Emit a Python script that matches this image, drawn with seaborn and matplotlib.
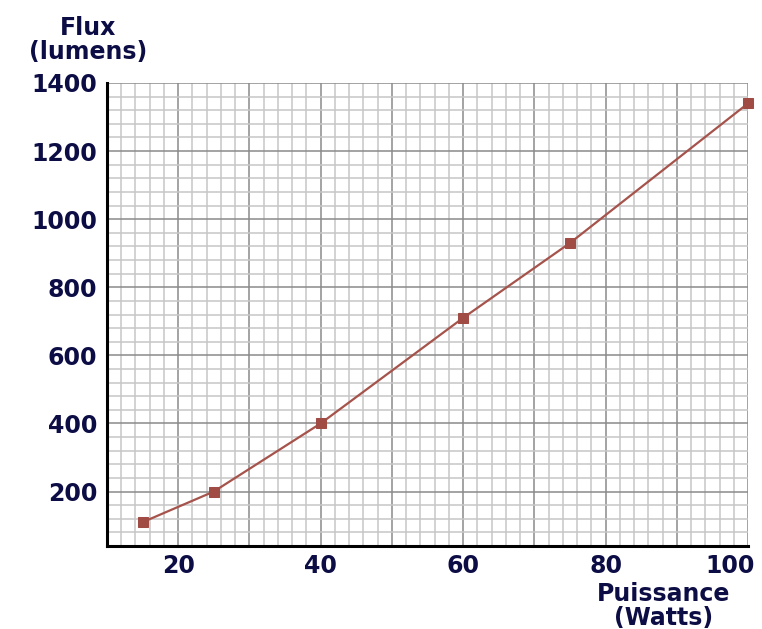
import matplotlib
matplotlib.use("Agg")
import matplotlib.pyplot as plt
import matplotlib.transforms as mtransforms
import seaborn as sns
import pandas as pd
import numpy as np
from matplotlib.ticker import FixedLocator, MultipleLocator

# Data
puissance = [15, 25, 40, 60, 75, 100]          # Watts
flux = [110, 200, 400, 710, 930, 1340]         # lumens
x_ticks = [10, 20, 30, 40, 50, 60, 70, 80, 90, 100]
x_labels = ["", "20", "", "40", "", "60", "", "80", "", "100"]
y_ticks = [200, 400, 600, 800, 1000, 1200, 1400]
y_labels = ["200", "400", "600", "800", "1000", "1200", "1400"]

sns.set_style("white")
plt.rcParams['font.family'] = ['DejaVu Sans']

TXT = "#0d0d45"
LINE = "#a5534b"

df = pd.DataFrame({"Puissance": puissance, "Flux": flux})

fig = plt.figure(figsize=(7.62, 6.29), dpi=100)
ax = fig.add_axes([107/762, 83/629, (748-107)/762, (546-83)/629])

ax.set_xlim(10, 100)
ax.set_ylim(40, 1400)

# Grid
ax.xaxis.set_minor_locator(MultipleLocator(2))
ax.yaxis.set_minor_locator(MultipleLocator(40))
ax.xaxis.set_major_locator(FixedLocator(x_ticks))
ax.yaxis.set_major_locator(FixedLocator(y_ticks))
ax.set_xticklabels(x_labels)
ax.set_yticklabels(y_labels)
ax.grid(which="minor", color="#c6c6c6", linewidth=1.1)
ax.grid(which="major", color="#8a8a8a", linewidth=1.1)
ax.set_axisbelow(True)

sns.lineplot(data=df, x="Puissance", y="Flux", ax=ax, color=LINE,
             linewidth=1.6, marker="s", markersize=7, markeredgecolor="#a04c45",
             markerfacecolor="#a04c45", clip_on=False, zorder=5)

for s in ["top", "right"]:
    ax.spines[s].set_visible(False)
for s in ["left", "bottom"]:
    ax.spines[s].set_color("black")
    ax.spines[s].set_linewidth(2.2)

ax.tick_params(which="minor", length=0)
ax.tick_params(which="major", length=5, width=1.2, color="#333333",
               labelsize=17, labelcolor=TXT)
ax.tick_params(axis="x", which="major", pad=1)
ax.tick_params(axis="y", which="major", pad=2)
for t, v in zip(ax.xaxis.get_major_ticks(), x_ticks):
    if v % 20 != 0:
        t.tick1line.set_visible(False)
for lab in ax.get_xticklabels() + ax.get_yticklabels():
    lab.set_fontweight("bold")

# last x label sits right-aligned near the figure edge as in the reference
last = ax.get_xticklabels()[-1]
last.set_horizontalalignment("right")
last.set_transform(last.get_transform() +
                   mtransforms.ScaledTranslation(7/100, 0, fig.dpi_scale_trans))

ax.set_xlabel("")
ax.set_ylabel("")

fig.text(88/762, 1 - 40/629, "Flux\n(lumens)", ha="center", va="center",
         fontsize=17, fontweight="bold", color=TXT, linespacing=1.05)
fig.text(664/762, 1 - 606/629, "Puissance\n(Watts)", ha="center", va="center",
         fontsize=17, fontweight="bold", color=TXT, linespacing=1.0)

fig.savefig("out.png", dpi=100)
